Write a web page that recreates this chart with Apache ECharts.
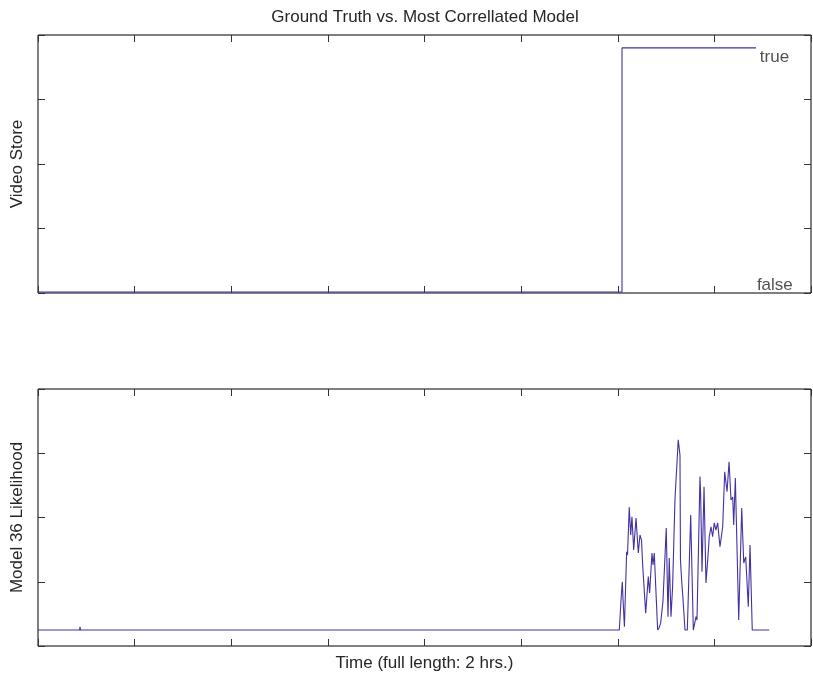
<!DOCTYPE html>
<html>
<head>
<meta charset="utf-8">
<script src="https://cdn.jsdelivr.net/npm/echarts@6/dist/echarts.min.js"></script>
<style>html,body{margin:0;padding:0;background:#fff;}#c{width:813px;height:679px;}</style>
</head>
<body>
<div id="c"></div>
<script>
// Ground truth (top panel)
var truthTime  = [0, 604.4, 604.4, 743];
var truthValue = [0.004, 0.004, 0.95, 0.95];

// Model 36 likelihood (bottom panel)
var modelTime = [0, 11, 11.4, 11.8, 43, 43.5, 44, 601.6, 603.4, 604.7, 605.5, 606.9, 609.2, 610.1, 611.9, 613.4, 614.7, 616.5, 618.9, 621.3, 623.0, 624.6, 625.8, 628.9, 631.6, 633.0, 635.4, 636.5, 637.8, 639.6, 641.3, 642.7, 644.4, 646.8, 650.2, 652.0, 653.3, 655.1, 656.8, 659.2, 662.6, 664.4, 664.9, 666.1, 667.1, 669.6, 672.0, 675.5, 678.2, 681.0, 682.0, 685.1, 685.8, 687.2, 689.3, 691.3, 693.1, 694.7, 696.5, 698.2, 699.9, 701.6, 703.4, 705.8, 708.6, 710.7, 713.1, 715.2, 717.2, 719.0, 720.0, 721.7, 725.2, 728.3, 729.1, 730.4, 732.4, 735.1, 736.9, 739.2, 756.8];
var modelValue = [0.062, 0.062, 0.067, 0.062, 0.062, 0.075, 0.062, 0.062, 0.179, 0.250, 0.179, 0.075, 0.367, 0.354, 0.540, 0.432, 0.503, 0.374, 0.498, 0.362, 0.432, 0.412, 0.315, 0.128, 0.270, 0.206, 0.362, 0.315, 0.362, 0.206, 0.062, 0.070, 0.089, 0.175, 0.459, 0.114, 0.342, 0.114, 0.233, 0.568, 0.802, 0.743, 0.335, 0.257, 0.206, 0.062, 0.062, 0.510, 0.062, 0.114, 0.101, 0.659, 0.588, 0.289, 0.620, 0.245, 0.335, 0.425, 0.464, 0.425, 0.479, 0.451, 0.479, 0.386, 0.464, 0.678, 0.600, 0.717, 0.568, 0.580, 0.471, 0.654, 0.101, 0.537, 0.451, 0.323, 0.347, 0.153, 0.393, 0.062, 0.062];

// Text annotations in the top panel
var stateLabels = ['true', 'false'];
var stateLabelTime = [747, 744];
var stateLabelValue = [0.912, 0.03];

var titleText = 'Ground Truth vs. Most Correllated Model';
var xAxisTitle = 'Time (full length: 2 hrs.)';
var topYTitle = 'Video Store';
var bottomYTitle = 'Model 36 Likelihood';

var FONT = '"Liberation Sans", Arial, sans-serif';
var TEXT_COLOR = '#262626';
var lineColor = '#4332a0';
function tickStyle() { return { show: true, inside: true, length: 7, lineStyle: { color: '#333', width: 1 } }; }

function xAx(grid, pos, name) {
  return {
    type: 'value', gridIndex: grid, position: pos, min: 0, max: 800, interval: 100,
    axisLine: { show: false, onZero: false }, axisTick: tickStyle(), axisLabel: { show: false, inside: true }, splitLine: { show: false },
    name: name || '', nameLocation: 'middle', nameGap: 9,
    nameTextStyle: { fontFamily: FONT, fontSize: 17, color: TEXT_COLOR, verticalAlign: 'top' }
  };
}
function yAx(grid, pos, name) {
  return {
    type: 'value', gridIndex: grid, position: pos, min: 0, max: 1, interval: 0.25,
    axisLine: { show: false, onZero: false }, axisTick: tickStyle(), axisLabel: { show: false, inside: true }, splitLine: { show: false },
    name: name || '', nameLocation: 'middle', nameGap: 12, nameRotate: 90,
    nameTextStyle: { fontFamily: FONT, fontSize: 17, color: TEXT_COLOR }
  };
}

var chart = echarts.init(document.getElementById('c'), null, { renderer: 'canvas' });
chart.setOption({
  animation: false,
  backgroundColor: '#fff',
  title: {
    text: titleText, left: 420, top: 4, textAlign: 'center',
    textStyle: { fontFamily: FONT, fontSize: 17, fontWeight: 'normal', color: TEXT_COLOR }
  },
  grid: [
    { left: 38, top: 35, width: 773, height: 258, show: true, borderColor: '#000', borderWidth: 1, backgroundColor: '#fff' },
    { left: 38, top: 389, width: 773, height: 257, show: true, borderColor: '#000', borderWidth: 1, backgroundColor: '#fff' }
  ],
  xAxis: [ xAx(0, 'bottom'), xAx(0, 'top'), xAx(1, 'bottom', xAxisTitle), xAx(1, 'top') ],
  yAxis: [ yAx(0, 'left', topYTitle), yAx(0, 'right'), yAx(1, 'left', bottomYTitle), yAx(1, 'right') ],
  series: [
    {
      type: 'line', xAxisIndex: 0, yAxisIndex: 0, showSymbol: false, symbol: 'none',
      data: truthTime.map(function (t, i) { return [t, truthValue[i]]; }),
      lineStyle: { color: lineColor, width: 1.1 }
    },
    {
      type: 'line', xAxisIndex: 2, yAxisIndex: 2, showSymbol: false, symbol: 'none',
      data: modelTime.map(function (t, i) { return [t, modelValue[i]]; }),
      lineStyle: { color: lineColor, width: 1.1 }
    },
    {
      type: 'scatter', xAxisIndex: 0, yAxisIndex: 0, symbolSize: 0, silent: true,
      data: stateLabels.map(function (s, i) { return { name: s, value: [stateLabelTime[i], stateLabelValue[i]] }; }),
      label: {
        show: true, position: 'right', distance: 0, formatter: '{b}',
        fontFamily: FONT, fontSize: 17, color: TEXT_COLOR, align: 'left'
      }
    }
  ]
});
</script>
</body>
</html>
